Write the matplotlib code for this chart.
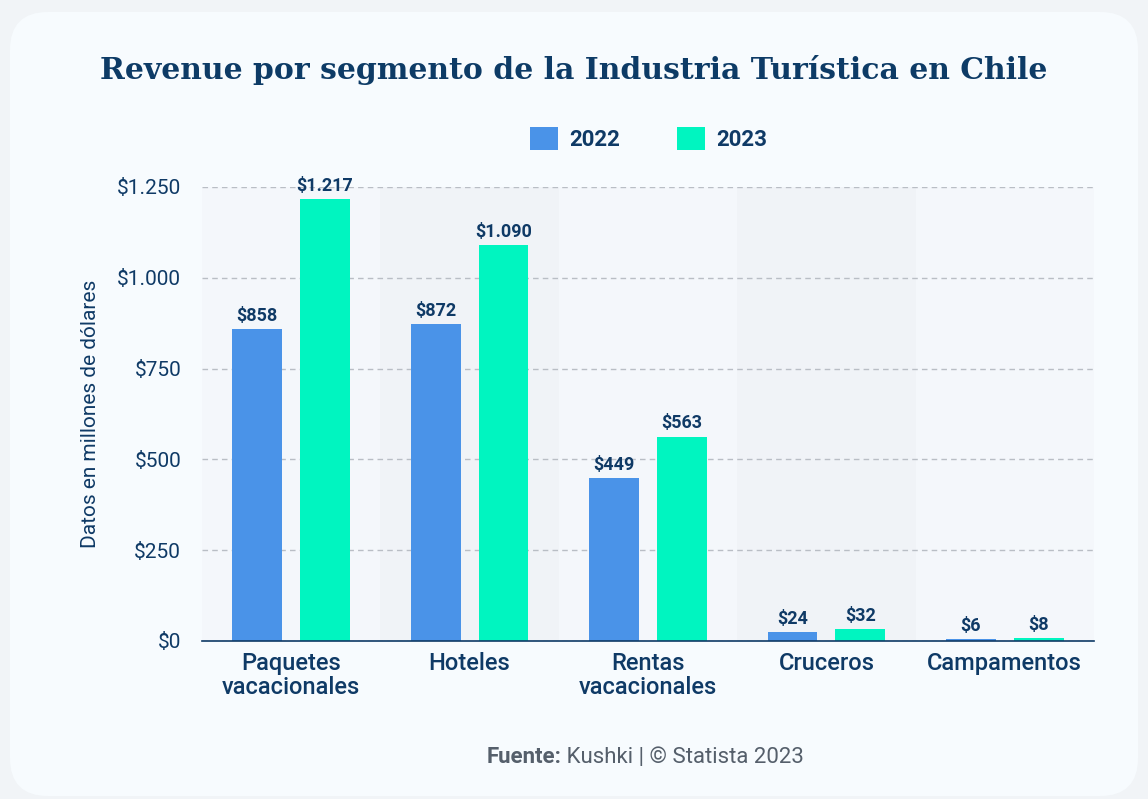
import numpy as np
import matplotlib
matplotlib.use("Agg")
import matplotlib.pyplot as plt
from matplotlib.patches import FancyBboxPatch
from matplotlib.transforms import IdentityTransform
from matplotlib.ticker import FuncFormatter

# DATA
categorias = ["Paquetes\nvacacionales", "Hoteles", "Rentas\nvacacionales", "Cruceros", "Campamentos"]
anios = ["2022", "2023"]
rev_2022 = [858, 872, 449, 24, 6]
rev_2023 = [1217, 1090, 563, 32, 8]
y_ticks = [0, 250, 500, 750, 1000, 1250]

# STYLE
c_2022 = "#4a93e8"
c_2023 = "#00f5c0"
navy = "#0f3a66"
band_light = "#f4f7fb"
band_dark = "#f0f3f7"
FONT = "Roboto"


def miles(v):
    return "$" + f"{int(v):,}".replace(",", ".")


def main():
    fig = plt.figure(figsize=(11.48, 7.99), dpi=100)
    fig.patch.set_facecolor("#f1f4f7")

    # card de fondo con esquinas redondeadas (pixeles)
    card = FancyBboxPatch((10, 3), 1128, 784, boxstyle="round,pad=0,rounding_size=38",
                          transform=IdentityTransform(), facecolor="#f7fbfe",
                          edgecolor="none", zorder=-5)
    fig.patches.append(card)

    ax = fig.add_axes([202/1148, 158/799, 892/1148, 454/799])
    ax.set_facecolor("none")
    ax.set_zorder(1)

    x = np.arange(len(categorias))
    w = 0.28
    off = 0.19

    for i in range(len(categorias)):
        ax.axvspan(i - 0.5, i + 0.5, color=band_light if i % 2 == 0 else band_dark, zorder=0, lw=0)

    b1 = ax.bar(x - off, rev_2022, w, color=c_2022, zorder=3, label=anios[0])
    b2 = ax.bar(x + off, rev_2023, w, color=c_2023, zorder=3, label=anios[1])
    for bars, vals in [(b1, rev_2022), (b2, rev_2023)]:
        ax.bar_label(bars, labels=[miles(v) for v in vals], padding=3,
                     fontsize=13, fontweight="bold", color=navy, family=FONT)

    ax.set_xlim(-0.5, len(categorias) - 0.5)
    ax.set_ylim(0, 1250)
    ax.set_yticks(y_ticks)
    ax.yaxis.set_major_formatter(FuncFormatter(lambda v, p: miles(v)))
    ax.set_xticks(x)
    ax.set_xticklabels(categorias, fontsize=17, color=navy, family=FONT,
                       fontweight="medium", linespacing=1.05)
    for lab in ax.get_yticklabels():
        lab.set_fontsize(15)
        lab.set_color(navy)
        lab.set_family(FONT)
    ax.tick_params(axis="y", length=0, pad=15)
    ax.tick_params(axis="x", length=0, pad=8)

    ax.grid(axis="y", linestyle=(0, (4, 3)), color="#b9bec5", lw=1, zorder=1)
    for s in ["top", "right", "left"]:
        ax.spines[s].set_visible(False)
    ax.spines["bottom"].set_color(navy)
    ax.spines["bottom"].set_linewidth(1.2)
    ax.spines["bottom"].set_zorder(4)

    ax.set_ylabel("Datos en millones de dólares", fontsize=15, color=navy,
                  family=FONT, labelpad=12)

    fig.text(0.5, 1 - 70/799, "Revenue por segmento de la Industria Turística en Chile",
             ha="center", va="center", fontsize=21.5, fontweight="bold", color="#0d3b66",
             family="DejaVu Serif")

    leg = fig.legend(handles=[b1, b2], loc="center", bbox_to_anchor=(0.565, 1 - 139/799),
                     ncol=2, frameon=False, handlelength=1.25, handleheight=1.25,
                     columnspacing=2.6, handletextpad=0.5,
                     prop={"family": FONT, "size": 16, "weight": "bold"})
    for t in leg.get_texts():
        t.set_color(navy)

    xs = 561 / 1148
    fig.text(xs, 1 - 757/799, "Fuente:", ha="right", va="center",
             fontsize=16, color="#555f6b", family=FONT, fontweight="bold")
    fig.text(xs, 1 - 757/799, " Kushki | © Statista 2023", ha="left", va="center",
             fontsize=16, color="#555f6b", family=FONT)

    fig.savefig("out.png", dpi=100, facecolor=fig.get_facecolor())


if __name__ == "__main__":
    main()
